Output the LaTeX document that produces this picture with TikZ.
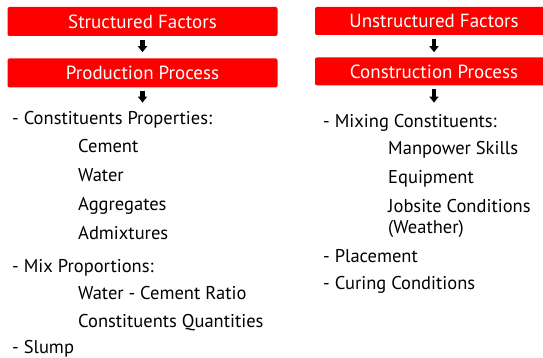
\documentclass[tikz,border=0pt]{standalone}
\usepackage{fontspec}
\setmainfont{PT Sans}
\usetikzlibrary{arrows.meta, positioning}

\begin{document}
\begin{tikzpicture}[x=1pt, y=1pt, font=\fontsize{18.5}{21}\selectfont,
    redbox/.style={fill=red, rounded corners=2pt, text=white,
        minimum width=270pt, minimum height=29pt, inner sep=0pt,
        font=\fontsize{19}{22}\selectfont},
    downarrow/.style={line width=4.5pt, -{Triangle[width=9pt, length=6pt]}},
    item/.style={anchor=base west, inner sep=0pt}]

\useasboundingbox (0,0) rectangle (543,-358);

% Production process (left column)
\node[redbox] (sfac) at (142.5,-21.5) {Structured Factors};
\node[redbox, below=22pt of sfac] (prod) {Production Process};

\node[item] (props) at (12,-125) {- Constituents Properties:};
\node[item] (cement) at (78,-153) {Cement};
\node[item] (water) at (78,-182) {Water};
\node[item] (aggr) at (78,-211) {Aggregates};
\node[item] (admix) at (78,-239) {Admixtures};
\node[item] (mixprop) at (12,-272) {- Mix Proportions:};
\node[item] (wcratio) at (78,-299) {Water - Cement Ratio};
\node[item] (quant) at (78,-327) {Constituents Quantities};
\node[item] (slump) at (12,-353) {- Slump};

% Construction process (right column)
\node[redbox, minimum width=238pt, minimum height=28pt] (ufac) at (434,-21) {Unstructured Factors};
\node[redbox, minimum width=238pt, minimum height=28pt, below=22pt of ufac] (constr) {Construction Process};

\node[item] (mixing) at (323,-128) {- Mixing Constituents:};
\node[item] (skills) at (388,-155) {Manpower Skills};
\node[item] (equip) at (388,-183) {Equipment};
\node[item] (jobsite) at (388,-212) {Jobsite Conditions};
\node[item] (weather) at (388,-233) {(Weather)};
\node[item] (placem) at (323,-262) {- Placement};
\node[item] (curing) at (323,-289) {- Curing Conditions};

% Arrows
\draw[downarrow, shorten <=4pt, shorten >=6pt] (sfac) -- (prod);
\draw[downarrow, shorten <=3pt, shorten >=9pt] (prod) -- (prod.south |- props.north);
\draw[downarrow, shorten <=4pt, shorten >=5pt] (ufac) -- (constr);
\draw[downarrow, shorten <=3pt, shorten >=12pt] (constr) -- (constr.south |- mixing.north);

\end{tikzpicture}
\end{document}
